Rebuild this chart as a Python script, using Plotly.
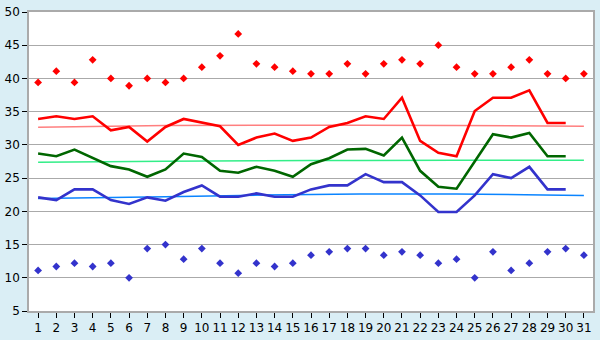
import plotly.graph_objects as go

days = list(range(1, 32))
days30 = list(range(1, 31))

max_abs = [39.4, 41.1, 39.4, 42.8, 40.0, 38.9, 40.0, 39.4, 40.0, 41.7,
           43.4, 46.7, 42.2, 41.7, 41.1, 40.7, 40.7, 42.2, 40.7, 42.2,
           42.8, 42.2, 45.0, 41.7, 40.7, 40.7, 41.7, 42.8, 40.7, 40.0, 40.7]
min_abs = [11.1, 11.7, 12.2, 11.7, 12.2, 10.0, 14.4, 15.0, 12.8, 14.4,
           12.2, 10.7, 12.2, 11.7, 12.2, 13.4, 13.9, 14.4, 14.4, 13.4,
           13.9, 13.4, 12.2, 12.8, 10.0, 13.9, 11.1, 12.2, 13.9, 14.4, 13.4]
max_avg = [33.9, 34.3, 33.9, 34.3, 32.2, 32.7, 30.5, 32.7, 33.9, 33.4,
           32.8, 30.0, 31.1, 31.7, 30.6, 31.1, 32.7, 33.3, 34.3, 33.9,
           37.1, 30.6, 28.8, 28.3, 35.1, 37.1, 37.1, 38.2, 33.3, 33.3]
mean_avg = [28.7, 28.3, 29.3, 28.0, 26.8, 26.3, 25.2, 26.3, 28.7, 28.2,
            26.1, 25.8, 26.7, 26.1, 25.2, 27.1, 28.0, 29.3, 29.4, 28.4,
            31.1, 26.1, 23.7, 23.4, 27.6, 31.6, 31.1, 31.8, 28.3, 28.3]
min_avg = [22.1, 21.7, 23.3, 23.3, 21.7, 21.1, 22.1, 21.6, 22.9, 23.9,
           22.2, 22.2, 22.7, 22.2, 22.2, 23.3, 23.9, 23.9, 25.6, 24.4,
           24.4, 22.4, 19.9, 19.9, 22.4, 25.6, 25.0, 26.7, 23.3, 23.3]

trend_x = [1, 8, 16, 24, 31]
max_trend = [32.67, 32.9, 32.95, 32.93, 32.8]
mean_trend = [27.38, 27.55, 27.65, 27.68, 27.68]
min_trend = [21.95, 22.2, 22.55, 22.62, 22.38]

yticks = [5, 10, 15, 20, 25, 30, 35, 40, 45, 50]

fig = go.Figure()
fig.add_trace(go.Scatter(x=trend_x, y=max_trend, mode="lines", line=dict(color="#FF7F7F", width=1.5, shape="spline")))
fig.add_trace(go.Scatter(x=trend_x, y=mean_trend, mode="lines", line=dict(color="#33EE88", width=1.5, shape="spline")))
fig.add_trace(go.Scatter(x=trend_x, y=min_trend, mode="lines", line=dict(color="#0A84FF", width=1.5, shape="spline")))
fig.add_trace(go.Scatter(x=days30, y=max_avg, mode="lines", line=dict(color="#FF0000", width=2.6)))
fig.add_trace(go.Scatter(x=days30, y=mean_avg, mode="lines", line=dict(color="#006600", width=2.6)))
fig.add_trace(go.Scatter(x=days30, y=min_avg, mode="lines", line=dict(color="#3333CC", width=2.6)))
fig.add_trace(go.Scatter(x=days, y=max_abs, mode="markers", marker=dict(color="#FF0000", symbol="diamond", size=6)))
fig.add_trace(go.Scatter(x=days, y=min_abs, mode="markers", marker=dict(color="#3333CC", symbol="diamond", size=6)))

fig.update_layout(
    width=600, height=340,
    margin=dict(l=20, r=5, t=5, b=20),
    paper_bgcolor="#DAEEF5",
    plot_bgcolor="#FFFFFF",
    showlegend=False,
    font=dict(family="DejaVu Sans", size=12, color="#000000"),
)
fig.update_xaxes(range=[0.5, 31.5], tickmode="array", tickvals=days, ticktext=[str(d) for d in days],
                 showgrid=False, showline=True, linecolor="#AAAAAA", linewidth=1.5, mirror=True,
                 ticks="outside", ticklen=5, tickcolor="#000000", tickfont=dict(size=12), zeroline=False)
fig.update_yaxes(range=[5, 50], tickmode="array", tickvals=yticks, showgrid=True, gridcolor="#AAAAAA", gridwidth=1,
                 showline=True, linecolor="#AAAAAA", linewidth=1.5, mirror=True,
                 ticks="outside", ticklen=5, tickcolor="#000000", tickfont=dict(size=12), zeroline=False)

fig.write_html("out.html")
